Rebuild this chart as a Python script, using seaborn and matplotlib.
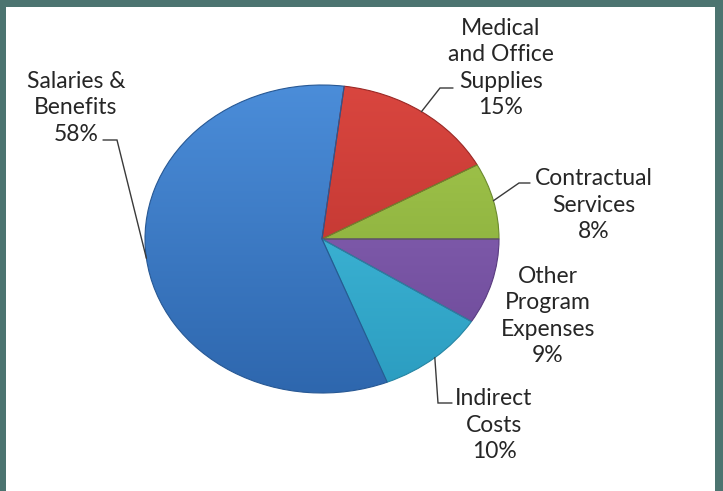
import numpy as np
import matplotlib
matplotlib.use("Agg")
import matplotlib.pyplot as plt
import matplotlib.colors as mcolors
from matplotlib.patches import Rectangle
import seaborn as sns

sns.set_theme(style="white")
plt.rcParams['font.family'] = ['Lato', 'DejaVu Sans']

# ---- data ----
categories = ["Medical\nand Office\nSupplies", "Contractual\nServices",
              "Other\nProgram\nExpenses", "Indirect\nCosts", "Salaries &\nBenefits"]
values = [15, 8, 9, 10, 58]
pct_labels = ["15%", "8%", "9%", "10%", "58%"]
top_colors = ["#d9463f", "#a6ca4e", "#8e69ba", "#48c4e2", "#4b8dd9"]
bot_colors = ["#b52f2b", "#7ea236", "#6a4796", "#2b9cc0", "#2e67ae"]

W, H = 723, 491
fig = plt.figure(figsize=(W / 100, H / 100), dpi=100)
fig.patch.set_facecolor("#4c7470")
fig.patches.append(Rectangle((6 / W, 0), (715 - 6) / W, (H - 7) / H,
                             transform=fig.transFigure, facecolor="white",
                             edgecolor="none", zorder=-10))

ax = fig.add_axes([0, 0, 1, 1])
ax.set_facecolor("none")
ax.patch.set_alpha(0)

# pie geometry (pixels)
cx, cy, rx, ry = 322, 239, 177, 154

def px(x, y):
    return ((x - cx) / rx, (cy - y) / ry)

palette = sns.color_palette(top_colors)
start = 90 - 360 * 0.02
wedges, _ = ax.pie(values, colors=palette, startangle=start, counterclock=False,
                   radius=1.0, wedgeprops=dict(edgecolor="none"))

# gradient shading clipped to each wedge
for w, c1, c2 in zip(wedges, top_colors, bot_colors):
    a = np.array(mcolors.to_rgb(c1))
    b = np.array(mcolors.to_rgb(c2))
    t = np.linspace(0, 1, 256)[:, None]
    grad = (b * (1 - t) + a * t)[:, None, :].repeat(4, axis=1)
    im = ax.imshow(grad, extent=[-1, 1, -1, 1], origin="lower",
                   aspect="auto", zorder=w.get_zorder() + 0.1, interpolation="bilinear")
    im.set_clip_path(w)
    ec = tuple(np.clip(b * 0.85, 0, 1))
    w.set_edgecolor(ec)
    w.set_linewidth(0.8)
    w.set_zorder(w.get_zorder() + 0.2)
    w.set_facecolor("none")

ax.set_aspect("auto")
ax.set_xlim(-cx / rx, (W - cx) / rx)
ax.set_ylim(-(H - cy) / ry, cy / ry)
ax.axis("off")

# labels: text center (pixels) and leader (text-side end, elbow) in pixels
text_pos = [(501, 68), (594, 205), (548, 316), (494, 425), (76, 108)]
leaders = [((453, 88), (440, 88)),
           ((530, 183), (519, 183)),
           None,
           ((452, 403), (438, 403)),
           ((103, 140), (117, 140))]

angles = []
acc = start
total = sum(values)
for v in values:
    sweep = 360 * v / total
    angles.append(acc - sweep / 2)
    acc -= sweep

for name, pct, tp, ld, ang in zip(categories, pct_labels, text_pos, leaders, angles):
    x, y = px(*tp)
    ax.text(x, y, name + "\n" + pct, ha="center", va="center", fontsize=16.5,
            color="#262626", linespacing=1.33, zorder=5)
    if ld is not None:
        p0 = px(*ld[0])
        p1 = px(*ld[1])
        e = (np.cos(np.radians(ang)), np.sin(np.radians(ang)))
        ax.plot([p0[0], p1[0], e[0]], [p0[1], p1[1], e[1]], color="#3a3a3a",
                lw=1.0, zorder=4, solid_joinstyle="miter")

fig.savefig("out.png", dpi=100, facecolor=fig.get_facecolor())
